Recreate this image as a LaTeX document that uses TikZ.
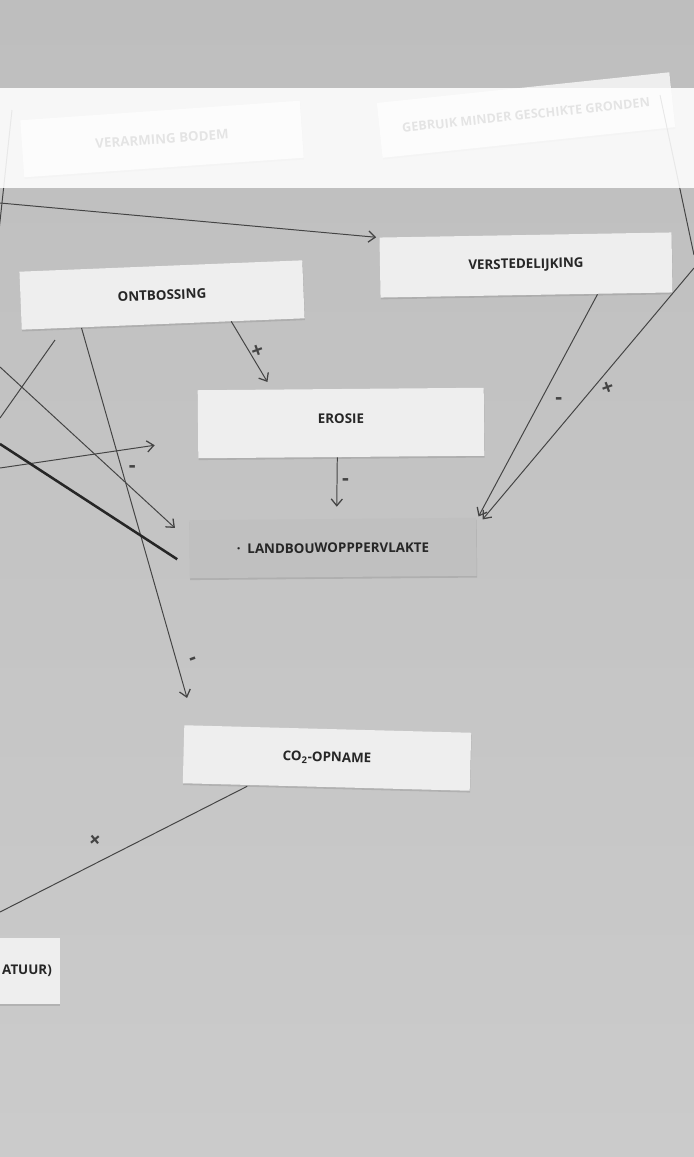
\documentclass[tikz,border=0pt]{standalone}
\usepackage{fontspec}
\setmainfont{Open Sans}
\usetikzlibrary{arrows.meta,calc,shadows}

\definecolor{papertop}{HTML}{BEBEBE}
\definecolor{paperbottom}{HTML}{CBCBCB}
\definecolor{cardwhite}{HTML}{EEEEEE}
\definecolor{cardgray}{HTML}{C0C0C0}
\definecolor{inkdark}{HTML}{262626}
\definecolor{pen}{HTML}{444444}

\tikzset{
  card/.style={fill=cardwhite, text=inkdark, inner sep=0pt,
    font=\fontsize{9.5}{11}\selectfont\bfseries,
    drop shadow={shadow xshift=0.3pt, shadow yshift=-1.3pt, opacity=0.3}},
  cardsize/.style 2 args={minimum width=#1*0.025cm, minimum height=#2*0.025cm},
  link/.style={draw=pen, line width=0.7pt, -{Straight Barb[length=1.7mm, width=2.8mm, line width=0.9pt]}},
  sign/.style={text=pen, inner sep=0pt, font=\fontsize{15}{16}\selectfont\bfseries}
}

\begin{document}
\begin{tikzpicture}[x=0.025cm, y=-0.025cm]
    \useasboundingbox (0,0) rectangle (694,1157);
    \clip (0,0) rectangle (694,1157);
    \shade[top color=papertop, bottom color=paperbottom] (0,0) rectangle (694,1157);

    % cards on the paper
    \node[card, cardsize={280}{57}, rotate=4] (verarming) at (162,139) {VERARMING BODEM};
    \node[card, cardsize={294}{55}, rotate=6, font=\fontsize{9}{10}\selectfont\bfseries] (gebruik) at (526,115) {GEBRUIK MINDER GESCHIKTE GRONDEN};
    \node[card, cardsize={283}{58}, rotate=2.3] (ontbossing) at (162,295) {ONTBOSSING};
    \node[card, cardsize={292}{60}, rotate=1] (verstedelijking) at (526,265) {VERSTEDELIJKING};
    \node[card, cardsize={286}{68}, rotate=0.5, text depth=6pt] (erosie) at (341,423) {EROSIE};
    \node[card, cardsize={287}{58}, rotate=0.5, fill=cardgray] (landbouw) at (333,548) {·\enspace LANDBOUWOPPPERVLAKTE};
    \node[card, cardsize={287}{58}, rotate=-1.5] (co2opname) at (327,758) {CO\textsubscript{2}-OPNAME};
    \node[card, cardsize={66}{66}] (atuur) at (27,971) {ATUUR)};

    % free ends
    \coordinate (linksboven) at (0,203);
    \coordinate (links1) at (55,340);
    \coordinate (links2) at (0,418);
    \coordinate (links3) at (0,367);
    \coordinate (links4) at (0,468);
    \coordinate (links5) at (0,444);
    \coordinate (links6) at (0,912);
    \coordinate (rechts) at (694,268);

    \draw[pen, line width=0.7pt] (12,110) -- (-2,240);
    \draw[pen, line width=0.7pt] (660,95) -- (694,255);

    \draw[link] (linksboven) -- ($(verstedelijking.north west)+(-3,0)$);
    \draw[link] ($(ontbossing.south)+(68,-3)$) -- ($(erosie.north west)+(70,-8)$)
        node[sign, pos=0.5, xshift=6pt, rotate=20] {+};
    \draw[link] ($(erosie.south)+(-4,0)$) -- ($(landbouw.north)+(4,-12)$)
        node[sign, pos=0.5, xshift=6pt] {-};
    \draw[link] ($(verstedelijking.south)+(71,-1)$) -- ($(landbouw.north east)+(2,-1)$)
        node[sign, pos=0.48, xshift=13pt] {-};
    \draw[link] (rechts) -- ($(landbouw.north east)+(6,2)$)
        node[sign, pos=0.48, xshift=11pt, rotate=20] {+};
    \draw[link] ($(ontbossing.south west)+(60,-2)$) -- ($(co2opname.north west)+(3,-27)$)
        node[sign, pos=0.9, xshift=12pt, rotate=20] {-};
    \draw[pen, line width=0.7pt] ($(co2opname.south)+(-79,-1)$) -- (links6)
        node[sign, pos=0.61, yshift=16pt, rotate=40] {+};

    \draw[pen, line width=0.7pt] (links1) -- (links2);
    \draw[link] (links3) -- ($(landbouw.north west)+(-14,8)$)
        node[sign, pos=0.756, yshift=14pt] {-};
    \draw[link] (links4) -- ($(erosie.west)+(-43,21)$);
    \draw[draw=inkdark, line width=1.8pt] (links5) -- ($(landbouw.west)+(-12,10)$);

    % white band over the top cards
    \fill[white, opacity=0.88] (0,88) rectangle (694,188);
\end{tikzpicture}
\end{document}
